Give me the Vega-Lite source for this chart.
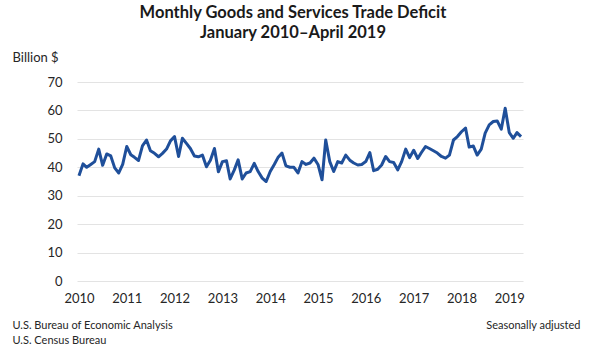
{
  "$schema": "https://vega.github.io/schema/vega-lite/v6.json",
  "width": 446,
  "height": 199,
  "autosize": {"type": "none"},
  "padding": {"left": 77, "top": 82, "right": 67, "bottom": 70},
  "background": "white",
  "config": {
    "view": {"stroke": null},
    "font": "Lato",
    "axis": {"labelFont": "Lato", "titleFont": "Lato"}
  },
  "title": {
    "text": ["Monthly Goods and Services Trade Deficit", "January 2010\u2013April 2019"],
    "font": "Lato",
    "fontSize": 16.5,
    "fontWeight": "bold",
    "color": "#1a1a1a",
    "anchor": "middle",
    "dx": -7,
    "offset": 10,
    "lineHeight": 20
  },
  "data": {
    "values": [
      {"date": "2010-01-01", "value": 37.0}, {"date": "2010-02-01", "value": 41.2}, {"date": "2010-03-01", "value": 40.0}, {"date": "2010-04-01", "value": 41.0}, {"date": "2010-05-01", "value": 42.0}, {"date": "2010-06-01", "value": 46.4}, {"date": "2010-07-01", "value": 40.7}, {"date": "2010-08-01", "value": 44.7}, {"date": "2010-09-01", "value": 44.0}, {"date": "2010-10-01", "value": 39.8}, {"date": "2010-11-01", "value": 38.0}, {"date": "2010-12-01", "value": 41.0},
      {"date": "2011-01-01", "value": 47.3}, {"date": "2011-02-01", "value": 44.4}, {"date": "2011-03-01", "value": 43.5}, {"date": "2011-04-01", "value": 42.4}, {"date": "2011-05-01", "value": 47.5}, {"date": "2011-06-01", "value": 49.6}, {"date": "2011-07-01", "value": 45.8}, {"date": "2011-08-01", "value": 44.9}, {"date": "2011-09-01", "value": 43.7}, {"date": "2011-10-01", "value": 44.9}, {"date": "2011-11-01", "value": 46.4}, {"date": "2011-12-01", "value": 49.3},
      {"date": "2012-01-01", "value": 50.8}, {"date": "2012-02-01", "value": 43.8}, {"date": "2012-03-01", "value": 50.2}, {"date": "2012-04-01", "value": 48.4}, {"date": "2012-05-01", "value": 46.6}, {"date": "2012-06-01", "value": 44.0}, {"date": "2012-07-01", "value": 43.7}, {"date": "2012-08-01", "value": 44.3}, {"date": "2012-09-01", "value": 40.2}, {"date": "2012-10-01", "value": 42.5}, {"date": "2012-11-01", "value": 46.6}, {"date": "2012-12-01", "value": 38.4},
      {"date": "2013-01-01", "value": 42.0}, {"date": "2013-02-01", "value": 42.3}, {"date": "2013-03-01", "value": 35.9}, {"date": "2013-04-01", "value": 39.0}, {"date": "2013-05-01", "value": 42.6}, {"date": "2013-06-01", "value": 35.9}, {"date": "2013-07-01", "value": 38.0}, {"date": "2013-08-01", "value": 38.5}, {"date": "2013-09-01", "value": 41.4}, {"date": "2013-10-01", "value": 38.5}, {"date": "2013-11-01", "value": 36.2}, {"date": "2013-12-01", "value": 35.0},
      {"date": "2014-01-01", "value": 38.5}, {"date": "2014-02-01", "value": 41.0}, {"date": "2014-03-01", "value": 43.4}, {"date": "2014-04-01", "value": 45.0}, {"date": "2014-05-01", "value": 40.5}, {"date": "2014-06-01", "value": 40.0}, {"date": "2014-07-01", "value": 40.0}, {"date": "2014-08-01", "value": 38.0}, {"date": "2014-09-01", "value": 42.0}, {"date": "2014-10-01", "value": 41.0}, {"date": "2014-11-01", "value": 41.5}, {"date": "2014-12-01", "value": 43.2},
      {"date": "2015-01-01", "value": 41.0}, {"date": "2015-02-01", "value": 35.6}, {"date": "2015-03-01", "value": 49.6}, {"date": "2015-04-01", "value": 42.0}, {"date": "2015-05-01", "value": 38.5}, {"date": "2015-06-01", "value": 42.0}, {"date": "2015-07-01", "value": 41.5}, {"date": "2015-08-01", "value": 44.3}, {"date": "2015-09-01", "value": 42.5}, {"date": "2015-10-01", "value": 41.5}, {"date": "2015-11-01", "value": 40.8}, {"date": "2015-12-01", "value": 41.0},
      {"date": "2016-01-01", "value": 42.0}, {"date": "2016-02-01", "value": 45.2}, {"date": "2016-03-01", "value": 38.8}, {"date": "2016-04-01", "value": 39.3}, {"date": "2016-05-01", "value": 40.8}, {"date": "2016-06-01", "value": 43.8}, {"date": "2016-07-01", "value": 42.0}, {"date": "2016-08-01", "value": 41.7}, {"date": "2016-09-01", "value": 39.1}, {"date": "2016-10-01", "value": 42.0}, {"date": "2016-11-01", "value": 46.4}, {"date": "2016-12-01", "value": 43.4},
      {"date": "2017-01-01", "value": 46.0}, {"date": "2017-02-01", "value": 43.1}, {"date": "2017-03-01", "value": 45.2}, {"date": "2017-04-01", "value": 47.3}, {"date": "2017-05-01", "value": 46.6}, {"date": "2017-06-01", "value": 45.8}, {"date": "2017-07-01", "value": 45.0}, {"date": "2017-08-01", "value": 43.8}, {"date": "2017-09-01", "value": 43.2}, {"date": "2017-10-01", "value": 44.3}, {"date": "2017-11-01", "value": 49.6}, {"date": "2017-12-01", "value": 50.8},
      {"date": "2018-01-01", "value": 52.5}, {"date": "2018-02-01", "value": 53.8}, {"date": "2018-03-01", "value": 47.1}, {"date": "2018-04-01", "value": 47.5}, {"date": "2018-05-01", "value": 44.3}, {"date": "2018-06-01", "value": 46.4}, {"date": "2018-07-01", "value": 52.0}, {"date": "2018-08-01", "value": 54.9}, {"date": "2018-09-01", "value": 56.1}, {"date": "2018-10-01", "value": 56.3}, {"date": "2018-11-01", "value": 53.4}, {"date": "2018-12-01", "value": 60.8},
      {"date": "2019-01-01", "value": 52.2}, {"date": "2019-02-01", "value": 50.2}, {"date": "2019-03-01", "value": 52.2}, {"date": "2019-04-01", "value": 50.8}
    ]
  },
  "layer": [
    {
      "mark": {"type": "line", "color": "#1f4f9a", "strokeWidth": 3, "strokeJoin": "round"},
      "encoding": {
        "x": {
          "field": "date",
          "type": "temporal",
          "scale": {
            "type": "utc",
            "domain": [{"year": 2009, "month": 12, "date": 17, "utc": true}, {"year": 2019, "month": 4, "date": 16, "utc": true}]
          },
          "axis": {
            "values": [
              {"year": 2010, "utc": true}, {"year": 2011, "utc": true}, {"year": 2012, "utc": true}, {"year": 2013, "utc": true}, {"year": 2014, "utc": true},
              {"year": 2015, "utc": true}, {"year": 2016, "utc": true}, {"year": 2017, "utc": true}, {"year": 2018, "utc": true}, {"year": 2019, "utc": true}
            ],
            "format": "%Y",
            "formatType": "utc",
            "grid": false,
            "ticks": false,
            "domain": false,
            "labelFontSize": 13,
            "labelColor": "#262626",
            "labelPadding": 11,
            "labelFlush": false,
            "title": ["U.S. Bureau of Economic Analysis", "U.S. Census Bureau"],
            "titleFontSize": 11,
            "titleFontWeight": "normal",
            "titleColor": "#262626",
            "titleAnchor": "start",
            "titleAlign": "left",
            "titleBaseline": "top",
            "titleLineHeight": 15,
            "titleX": -65,
            "titleY": 38
          }
        },
        "y": {
          "field": "value",
          "type": "quantitative",
          "scale": {"domain": [0, 70], "nice": false, "zero": true},
          "axis": {
            "values": [0, 10, 20, 30, 40, 50, 60, 70],
            "grid": true,
            "gridColor": "#e3e3e3",
            "gridWidth": 1,
            "ticks": false,
            "domain": false,
            "labelFontSize": 13,
            "labelColor": "#262626",
            "labelPadding": 15,
            "title": "Billion $",
            "titleFontSize": 13,
            "titleFontWeight": "normal",
            "titleColor": "#262626",
            "titleAngle": 0,
            "titleAlign": "left",
            "titleBaseline": "middle",
            "titleX": -65,
            "titleY": -25
          }
        }
      }
    },
    {
      "mark": {"type": "line", "opacity": 0},
      "encoding": {
        "x": {"field": "date", "type": "temporal"},
        "y": {
          "field": "value",
          "type": "quantitative",
          "axis": {
            "orient": "right",
            "labels": false,
            "ticks": false,
            "domain": false,
            "grid": false,
            "title": "Seasonally adjusted",
            "titleFontSize": 11,
            "titleFontWeight": "normal",
            "titleColor": "#262626",
            "titleAngle": 0,
            "titleAlign": "right",
            "titleBaseline": "middle",
            "titleX": 57,
            "titleY": 243
          }
        }
      }
    }
  ],
  "resolve": {"axis": {"y": "independent"}}
}
